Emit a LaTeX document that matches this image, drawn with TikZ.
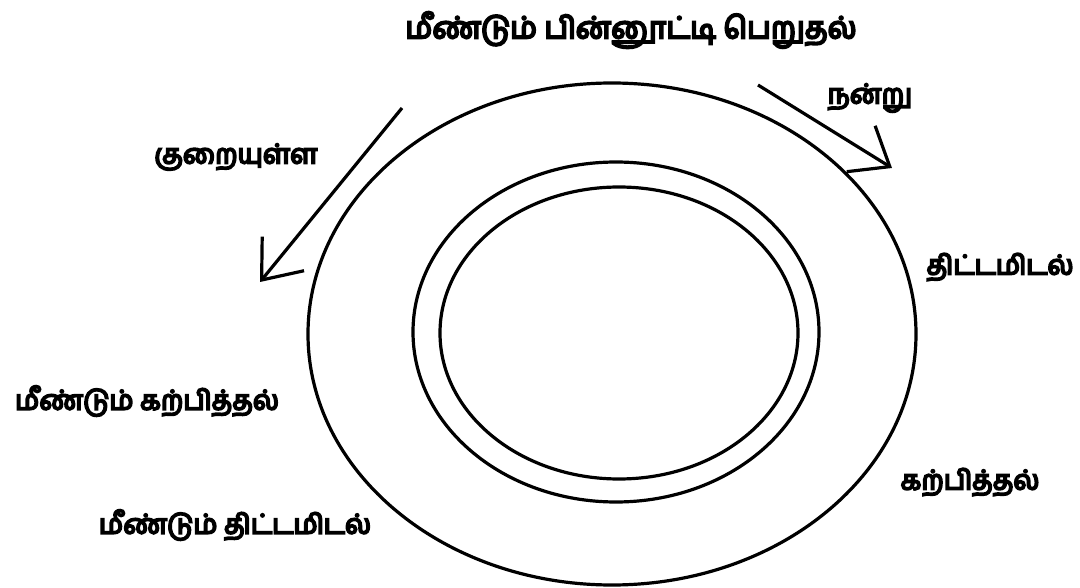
\documentclass[tikz,border=0pt]{standalone}
\usepackage{fontspec}
\newfontfamily\tamilfont[Script=Tamil, FakeBold=7]{Hind Madurai}
\usetikzlibrary{arrows.meta, positioning}

\begin{document}
\begin{tikzpicture}[
  x=1pt, y=-1pt,
  font=\tamilfont,
  ring/.style={draw, line width=3.2pt},
  flow/.style={line width=3.2pt, -{Straight Barb[length=34pt, width=54pt, line width=3.2pt]}},
  lbl/.style={inner sep=0pt, font=\tamilfont\fontsize{27}{30}\selectfont},
  ttl/.style={inner sep=0pt, font=\tamilfont\fontsize{30}{34}\selectfont}
]
\useasboundingbox (0,0) rectangle (1080,588);
% -------------------------------------------------------------------------
% TITLE
% -------------------------------------------------------------------------
\node[ttl] (title) at (631,30) {மீண்டும் பின்னூட்டி பெறுதல்};
% -------------------------------------------------------------------------
% RINGS
% -------------------------------------------------------------------------
\draw[ring] (612,334) ellipse [x radius=304pt, y radius=251pt];
\draw[ring] (616,332) ellipse [x radius=203pt, y radius=170pt];
\draw[ring] (619,333) ellipse [x radius=179pt, y radius=146pt];
% -------------------------------------------------------------------------
% LABELS
% -------------------------------------------------------------------------
\node[lbl] (good) at (870,98) {நன்று};
\node[lbl] (weak) at (236,157) {குறையுள்ள};
\node[lbl] (plan) at (1000,267) {திட்டமிடல்};
\node[lbl] (teach) at (970,482) {கற்பித்தல்};
\node[lbl] (reteach) at (147,401) {மீண்டும் கற்பித்தல்};
\node[lbl] (replan) at (235,525) {மீண்டும் திட்டமிடல்};
% -------------------------------------------------------------------------
% ARROWS
% -------------------------------------------------------------------------
\coordinate (good_from) at (758,85);
\coordinate (good_to) at (892,168);
\coordinate (weak_from) at (402,108);
\coordinate (weak_to) at (260,282);
\draw[flow] (good_from) -- (good_to);
\draw[flow] (weak_from) -- (weak_to);
\end{tikzpicture}
\end{document}
